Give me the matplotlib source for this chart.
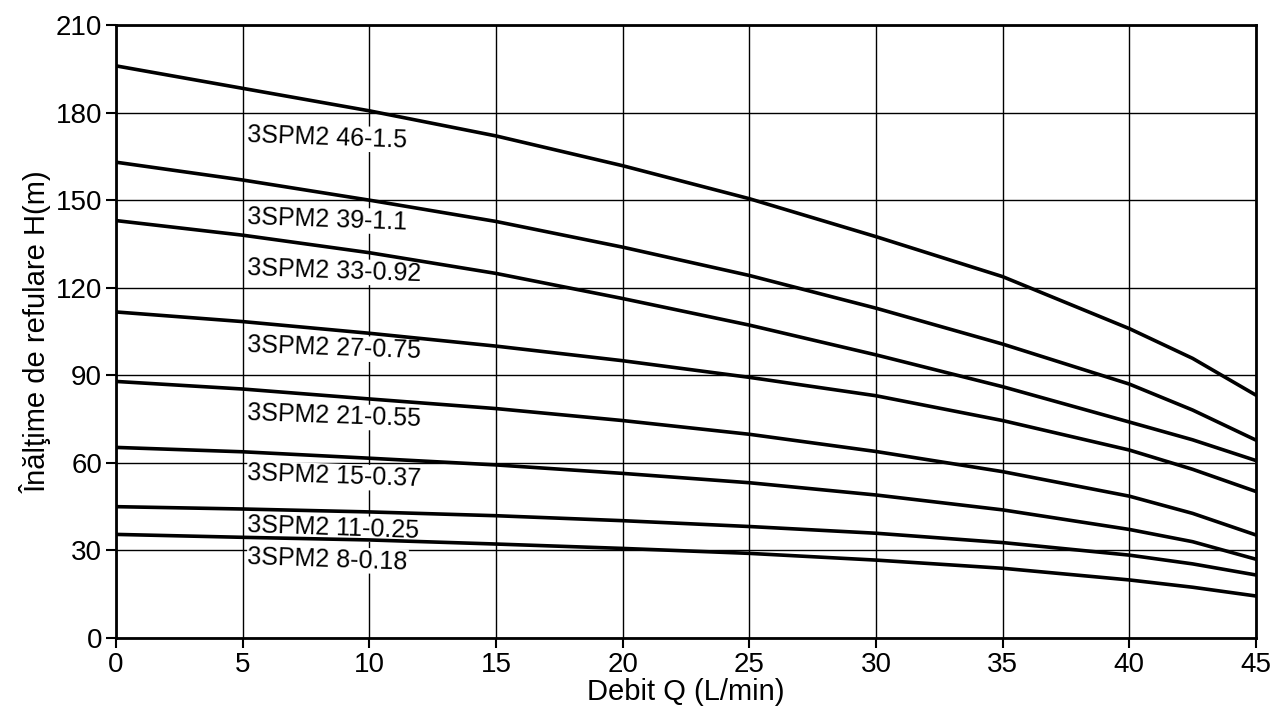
import matplotlib
matplotlib.use("Agg")
import matplotlib.pyplot as plt

plt.rcParams['font.family'] = ['Liberation Sans', 'DejaVu Sans']

# Flow (L/min)
q = [0, 5, 10, 15, 20, 25, 30, 35, 40, 42.5, 45]

# Head (m) for each pump model
h_46 = [196, 188.3, 180.6, 172, 161.8, 150.5, 137.5, 123.8, 106, 95.8, 83.2]
h_39 = [163, 156.9, 150, 142.7, 133.9, 124.2, 113, 100.7, 87, 78.1, 67.8]
h_33 = [143, 138, 132, 124.9, 116.3, 107.2, 97, 86.1, 74, 67.9, 60.8]
h_27 = [111.7, 108.4, 104.4, 100, 95, 89.3, 83, 74.5, 64.4, 57.8, 50.2]
h_21 = [87.9, 85.3, 81.9, 78.6, 74.5, 69.8, 63.9, 57, 48.6, 42.7, 35.3]
h_15 = [65.3, 63.8, 61.6, 59.3, 56.4, 53.2, 49, 43.9, 37.2, 33, 27]
h_11 = [45, 44.2, 43.2, 41.9, 40.2, 38.2, 35.9, 32.7, 28.4, 25.4, 21.6]
h_8 = [35.5, 34.5, 33.6, 32.2, 30.7, 29, 26.7, 23.9, 19.9, 17.4, 14.4]

curves = [h_46, h_39, h_33, h_27, h_21, h_15, h_11, h_8]
labels = ["3SPM2 46-1.5", "3SPM2 39-1.1", "3SPM2 33-0.92", "3SPM2 27-0.75",
          "3SPM2 21-0.55", "3SPM2 15-0.37", "3SPM2 11-0.25", "3SPM2 8-0.18"]
label_y = [172.3, 144.3, 126.7, 100.4, 77, 56.4, 38.7, 27.9]

fig = plt.figure(figsize=(12.8, 7.14), dpi=100)
ax = fig.add_axes([0.0906, 0.1064, 0.8906, 0.8586])

for h in curves:
    ax.plot(q, h, color='black', lw=2.6, zorder=4, solid_joinstyle='round')

for txt, y in zip(labels, label_y):
    ax.text(5.2, y, txt, fontsize=18, va='center', ha='left', rotation=-2,
            rotation_mode='anchor', zorder=3,
            bbox=dict(facecolor='white', edgecolor='none', pad=0.5))

ax.set_xlim(0, 45)
ax.set_ylim(0, 210)
ax.set_xticks(range(0, 46, 5))
ax.set_yticks(range(0, 211, 30))
ax.grid(True, color='black', lw=1.0, zorder=1)
ax.set_axisbelow(True)
for s in ax.spines.values():
    s.set_linewidth(2)
ax.tick_params(direction='out', length=7, width=1.5, labelsize=20, pad=3)

ax.set_xlabel("Debit Q (L/min)", fontsize=21, labelpad=0)
ax.set_ylabel("Înălţime de refulare H(m)", fontsize=21, labelpad=3)

fig.savefig("out.png", dpi=100)
